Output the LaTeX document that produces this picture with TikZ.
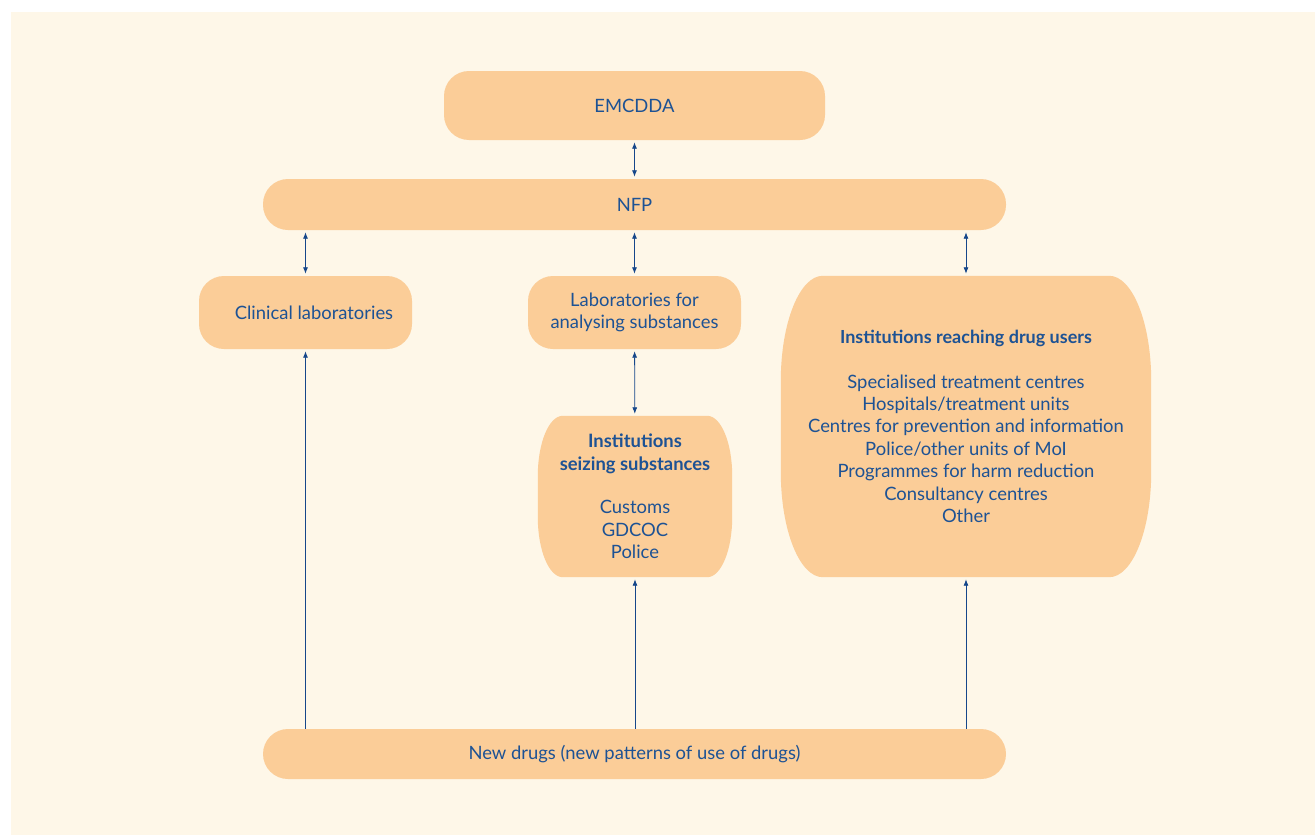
\documentclass[tikz,border=0pt]{standalone}
\usepackage{fontspec}
\setmainfont{Lato}
\usepackage{tikz}
\usetikzlibrary{positioning,calc,arrows.meta,backgrounds}

\definecolor{bgcream}{HTML}{FEF7E8}
\definecolor{boxpeach}{HTML}{FBCD98}
\definecolor{inkblue}{HTML}{1D5294}
\definecolor{linkblue}{HTML}{16478A}

% box with elliptic corners, filled behind a named node
\newcommand{\softbox}[3]{%
  \fill[boxpeach] ($(#1.north west)+(#2,0pt)$) -- ($(#1.north east)+(-#2,0pt)$)
    arc[start angle=90,end angle=0,x radius=#2,y radius=#3]
    -- ($(#1.south east)+(0pt,#3)$)
    arc[start angle=0,end angle=-90,x radius=#2,y radius=#3]
    -- ($(#1.south west)+(#2,0pt)$)
    arc[start angle=-90,end angle=-180,x radius=#2,y radius=#3]
    -- ($(#1.north west)+(0pt,-#3)$)
    arc[start angle=180,end angle=90,x radius=#2,y radius=#3] -- cycle;}

\begin{document}
\begin{tikzpicture}[x=1pt,y=-1pt,
    txt/.style={text=inkblue,font=\fontsize{18.4}{22.4}\selectfont,align=center,inner sep=0pt},
    pill/.style={txt,fill=boxpeach,rounded corners=25pt},
    soft/.style={txt},
    both/.style={{Latex[length=6.5pt,width=5pt]}-{Latex[length=6.5pt,width=5pt]},linkblue,line width=0.8pt,shorten <=2pt,shorten >=2pt},
    feed/.style={-{Latex[length=6.5pt,width=5pt]},linkblue,line width=0.8pt,shorten >=2pt}]
  \useasboundingbox (0,0) rectangle (1315,835);

  \node[pill,minimum width=381pt,minimum height=69pt] (emcdda) at (634.5,105.5) {EMCDDA};
  \node[pill,minimum width=743pt,minimum height=51pt] (nfp)    at (634.5,204.5) {NFP};
  \node[pill,minimum width=213pt,minimum height=73pt] (clin)   at (305.5,312.5) {\hspace*{17pt}Clinical laboratories};
  \node[pill,minimum width=213pt,minimum height=73pt] (labs)   at (634.5,312.5) {Laboratories for\\analysing substances};
  \node[soft,minimum width=194pt,minimum height=161pt] (seize) at (635,496.5)
    {\textbf{Institutions}\\\textbf{seizing substances}\\[21pt]Customs\\GDCOC\\Police};
  \node[soft,minimum width=370pt,minimum height=301pt] (reach) at (966,426.5)
    {{\fontsize{18}{22.4}\selectfont\textbf{Institutions reaching drug users}}\\[22pt]
     Specialised treatment centres\\Hospitals/treatment units\\
     Centres for prevention and information\\Police/other units of MoI\\
     Programmes for harm reduction\\Consultancy centres\\Other};
  \node[pill,minimum width=743pt,minimum height=50pt] (newd)   at (634.5,754) {New drugs (new patterns of use of drugs)};

  \begin{scope}[on background layer]
    \fill[bgcream] (11,12) rectangle (1315,835);
    \softbox{seize}{25pt}{60pt}
    \softbox{reach}{42pt}{105pt}
  \end{scope}

  \draw[both] (emcdda) -- (nfp);
  \draw[both] (nfp.south -| clin) -- (clin.north);
  \draw[both] (nfp) -- (labs);
  \draw[both] (nfp.south -| reach) -- (reach.north);
  \draw[both] (labs) -- (seize);

  \draw[feed] (newd.north -| clin) -- (clin.south);
  \draw[feed] (newd.north -| seize) -- (seize.south);
  \draw[feed] (newd.north -| reach) -- (reach.south);
\end{tikzpicture}
\end{document}
